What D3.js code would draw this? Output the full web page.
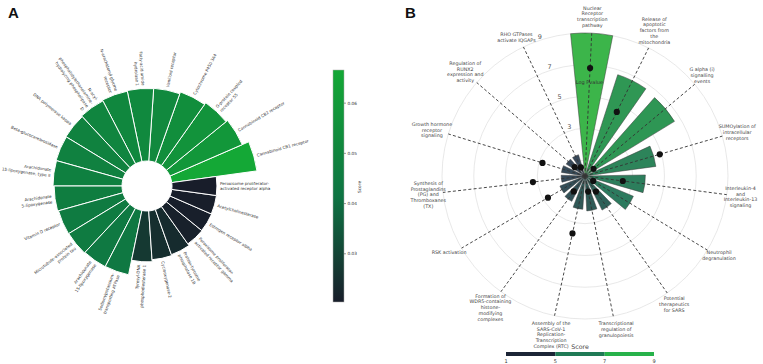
<!DOCTYPE html>
<html><head><meta charset="utf-8">
<script src="https://cdn.jsdelivr.net/npm/d3@7"></script>
<style>body{margin:0;background:#fff}svg{display:block}</style>
</head><body>
<svg id="c" width="763" height="364"></svg>
<script>
// ================= DATA =================
// Panel A: targets sorted by score (descending), laid out counter-clockwise
const targetsA = [
  "Cannabinoid CB1 receptor",
  "Cannabinoid CB2 receptor",
  "G-protein coupled receptor 55",
  "Cytochrome P450 3A4",
  "Vanilloid receptor",
  "Fatty-acid amide hydrolase 1",
  "N-arachidonyl glycine receptor",
  "N-acyl-phosphatidylethanolamine-hydrolyzing phospholipase D",
  "DNA polymerase kappa",
  "Beta-glucocerebrosidase",
  "Arachidonate 15-lipoxygenase, type II",
  "Arachidonate 5-lipoxygenase",
  "Vitamin D receptor",
  "Microtubule-associated protein tau",
  "Arachidonate 15-lipoxygenase",
  "Sodium/potassium-transporting ATPase",
  "Tyrosyl-DNA phosphodiesterase 1",
  "Cyclooxygenase-2",
  "Protein-tyrosine phosphatase 1B",
  "Peroxisome proliferator-activated receptor gamma",
  "Estrogen receptor alpha",
  "Acetylcholinesterase",
  "Peroxisome proliferator-activated receptor alpha"
];
const scoresA = [0.0666, 0.0586, 0.0564, 0.0541, 0.0519, 0.0515, 0.0507, 0.0496,
  0.0485, 0.0480, 0.0475, 0.0462, 0.0451, 0.0448, 0.0440, 0.0437,
  0.0271, 0.0248, 0.0237, 0.0214, 0.0210, 0.0206, 0.0204];
const colorTicksA = [0.03, 0.04, 0.05, 0.06];

// Panel B: pathways (clockwise from top)
const pathwaysB = [
  "Nuclear Receptor transcription pathway",
  "Release of apoptotic factors from the mitochondria",
  "G alpha (i) signalling events",
  "SUMOylation of intracellular receptors",
  "Interleukin-4 and Interleukin-13 signaling",
  "Neutrophil degranulation",
  "Potential therapeutics for SARS",
  "Transcriptional regulation of granulopoiesis",
  "Assembly of the SARS-CoV-1 Replication-Transcription Complex (RTC)",
  "Formation of WDR5-containing histone-modifying complexes",
  "RSK activation",
  "Synthesis of Prostaglandins (PG) and Thromboxanes (TX)",
  "Growth hormone receptor signaling",
  "Regulation of RUNX2 expression and activity",
  "RHO GTPases activate IQGAPs"
];
const scoreB = [9.0, 6.7, 6.6, 4.5, 3.8, 3.3, 2.4, 2.2, 2.1, 1.8, 1.7, 1.5, 1.5, 1.4, 1.4];
const logPvalueB = [6.8, 4.5, 0.7, 4.9, 2.4, 0.6, 1.2, 1.0, 3.7, 1.2, 2.7, 3.3, 2.8, 0.85, 0.6];
const radialTicksB = [1, 3, 5, 7, 9];
const radialLabelsB = [3, 5, 7, 9];
const colorTicksB = [1, 5, 7, 9];
const colorBandsB = ["#1c2536", "#1f7a55", "#27b24a"];

// ================= HELPERS =================
function isL(ch){ return !!ch && /[A-Za-z]/.test(ch); }
function splitHyphens(w){
  const parts=[]; let start=0;
  for(let k=1;k<w.length-1;k++){
    if(w[k]!=='-') continue;
    const before = (isL(w[k-1]) && isL(w[k-2])) || (isL(w[k-1]) && w[k-2]==='-' && isL(w[k-3]));
    const after = isL(w[k+1]) && (isL(w[k+2]) || (w[k+2]==='-' && isL(w[k+3])));
    if(before && after){ parts.push(w.slice(start,k+1)); start=k+1; }
  }
  parts.push(w.slice(start));
  return parts;
}
function wrap(text,width){
  const lines=[]; let cur="";
  text.split(" ").forEach(word=>{
    splitHyphens(word).forEach((p,j)=>{
      const add = (j===0 && cur.length>0) ? " "+p : p;
      if(cur.length>0 && (cur+add).length>width){ lines.push(cur); cur=p; }
      else cur += add;
    });
  });
  if(cur) lines.push(cur);
  return lines;
}
const rad = d => d*Math.PI/180;

const svg = d3.select("#c");

// ================= PANEL A =================
const A = {cx:147, cy:186, inner:25};
const nA = targetsA.length, stepA = 360/nA;
const thetaA = d3.scaleLinear().domain([0, nA]).range([stepA, 360+stepA]); // deg ccw from east
const radiusA = d3.scaleLinear().domain([0.02, 0.07]).range([69.6, 114]);
const extA = d3.extent(scoresA);
const colorA = d3.scaleLinear().domain([extA[0], extA[0]+0.45*(extA[1]-extA[0]), extA[1]])
  .range(["#181d2a", "#0e7343", "#14a836"]);
const gA = svg.append("g").attr("transform", `translate(${A.cx},${A.cy})`);
const arcA = d3.arc();
targetsA.forEach((t,i)=>{
  const th = thetaA(i);
  gA.append("path")
    .attr("d", arcA({innerRadius:A.inner, outerRadius:radiusA(scoresA[i]),
      startAngle:rad(90-th-stepA/2), endAngle:rad(90-th+stepA/2)}))
    .attr("fill", colorA(scoresA[i])).attr("stroke","#fff").attr("stroke-width",1);
});
const fsA = 4.1, lhA = 5.8;
targetsA.forEach((t,i)=>{
  const th = thetaA(i) % 360;
  const r = radiusA(scoresA[i]) + 3;
  const x = r*Math.cos(rad(th)), y = -r*Math.sin(rad(th));
  const flip = th>90 && th<270;
  const rot = flip ? 180-th : -th;
  const lines = wrap(t,25);
  const txt = gA.append("text")
    .attr("transform", `translate(${x},${y}) rotate(${rot})`)
    .attr("text-anchor", flip ? "end" : "start")
    .attr("font-family","DejaVu Sans").attr("font-size",fsA).attr("fill","#333");
  lines.forEach((l,j)=>txt.append("tspan").attr("x",0)
    .attr("y",(j-(lines.length-1)/2)*lhA).attr("dy","0.35em").text(l));
});
// colorbar A
const cbA = {x:333, w:11, y0:70, y1:302};
const yA = d3.scaleLinear().domain(extA).range([cbA.y1, cbA.y0]);
const defs = svg.append("defs");
const gradA = defs.append("linearGradient").attr("id","gA").attr("x1",0).attr("y1",1).attr("x2",0).attr("y2",0);
d3.range(0,1.0001,0.05).forEach(f=>{
  gradA.append("stop").attr("offset",f).attr("stop-color",colorA(extA[0]+f*(extA[1]-extA[0])));
});
svg.append("rect").attr("x",cbA.x).attr("y",cbA.y0).attr("width",cbA.w).attr("height",cbA.y1-cbA.y0)
  .attr("fill","url(#gA)").attr("stroke","#aaa").attr("stroke-width",0.5);
colorTicksA.forEach(v=>{
  svg.append("line").attr("x1",cbA.x+cbA.w).attr("x2",cbA.x+cbA.w+2).attr("y1",yA(v)).attr("y2",yA(v))
    .attr("stroke","#333").attr("stroke-width",0.5);
  svg.append("text").attr("x",cbA.x+cbA.w+3.5).attr("y",yA(v)).attr("dy","0.35em")
    .attr("font-family","DejaVu Sans").attr("font-size",4.3).attr("fill","#333").text(v.toFixed(2));
});
svg.append("text").attr("transform",`translate(359,${(cbA.y0+cbA.y1)/2+1}) rotate(-90)`)
  .attr("text-anchor","middle").attr("dy","0.35em")
  .attr("font-family","DejaVu Sans").attr("font-size",4.3).attr("fill","#333").text("Score");

svg.append("text").attr("x",8).attr("y",18).attr("font-family","Liberation Sans, Arial")
  .attr("font-weight","bold").attr("font-size",15).attr("fill","#111").text("A");

// ================= PANEL B =================
const B = {cx:585, cy:176, R:143};
const rB = d3.scaleLinear().domain([0,9]).range([0,B.R]);
const thetaB = d3.scaleLinear().domain([0,1]).range([2.7, 2.7+23.7]); // deg clockwise from north
const halfW = 8.5;
const colorB = d3.scaleLinear().domain([1.4, 2.2, 3.3, 6.6, 9])
  .range(["#374859", "#2f5b57", "#2c7a5e", "#2e9654", "#3cb54a"]);
const gB = svg.append("g").attr("transform",`translate(${B.cx},${B.cy})`);
// grid circles
radialTicksB.forEach(v=>{
  gB.append("circle").attr("r",rB(v)).attr("fill","none").attr("stroke","#e2e2e2").attr("stroke-width",0.8);
});
// bars
const arcB = d3.arc();
pathwaysB.forEach((p,i)=>{
  const th = thetaB(i);
  gB.append("path").attr("d", arcB({innerRadius:0, outerRadius:rB(scoreB[i]),
      startAngle:rad(th-halfW), endAngle:rad(th+halfW)}))
    .attr("fill", colorB(scoreB[i])).attr("stroke","#3a3a3a").attr("stroke-width",0.5);
});
// dashed spokes
pathwaysB.forEach((p,i)=>{
  const th = rad(thetaB(i));
  gB.append("line").attr("x1",0).attr("y1",0)
    .attr("x2",B.R*Math.sin(th)).attr("y2",-B.R*Math.cos(th))
    .attr("stroke","#333").attr("stroke-width",0.9).attr("stroke-dasharray","3,2.2");
});
// dots
pathwaysB.forEach((p,i)=>{
  const th = rad(thetaB(i)), r = rB(logPvalueB[i]);
  gB.append("circle").attr("cx",r*Math.sin(th)).attr("cy",-r*Math.cos(th)).attr("r",3.1).attr("fill","#111");
});
// radial tick labels
const radAxisAng = rad(-18);
radialLabelsB.forEach(v=>{
  const r = rB(v);
  gB.append("text").attr("x",r*Math.sin(radAxisAng)-1).attr("y",-r*Math.cos(radAxisAng)-3.5)
    .attr("dy","0.35em").attr("text-anchor","middle")
    .attr("font-family","DejaVu Sans").attr("font-size",6.5).attr("fill","#555").text(v);
});
// radial axis title
{
  const th = rad(thetaB(0)), r = rB(5.9);
  gB.append("text").attr("x",r*Math.sin(th)).attr("y",-r*Math.cos(th)).attr("dy","0.35em")
    .attr("text-anchor","middle").attr("font-family","DejaVu Sans").attr("font-size",5)
    .attr("fill","#333").text("Log Pvalue");
}
// category labels
const fsB = 4.8, lhB = 5.75, Rx = 140, Ry = 148;
pathwaysB.forEach((p,i)=>{
  const th = rad(thetaB(i));
  const s = Math.sin(th), c = Math.cos(th);
  const lines = wrap(p,15);
  const txt = gB.append("text").attr("text-anchor","middle")
    .attr("font-family","DejaVu Sans").attr("font-size",fsB).attr("fill","#444");
  lines.forEach((l,j)=>txt.append("tspan").attr("x",0)
    .attr("y",(j-(lines.length-1)/2)*lhB).attr("dy","0.35em").text(l));
  const w = d3.max(txt.selectAll("tspan").nodes(), n=>n.getComputedTextLength());
  const h = lines.length*lhB;
  const x = Rx*s + s*w/2, y = -Ry*c - c*h/2;
  txt.attr("transform",`translate(${x},${y})`);
});
// colorbar B
const xCB = d3.scalePoint().domain(colorTicksB).range([506, 654]);
colorTicksB.slice(0,-1).forEach((v,i)=>{
  svg.append("rect").attr("x",xCB(v)).attr("y",352).attr("width",xCB(colorTicksB[i+1])-xCB(v))
    .attr("height",4).attr("fill",colorBandsB[i]);
});
colorTicksB.forEach(v=>{
  svg.append("text").attr("x",xCB(v)).attr("y",363).attr("text-anchor","middle")
    .attr("font-family","DejaVu Sans").attr("font-size",5).attr("fill","#333").text(v);
});
svg.append("text").attr("x",580).attr("y",349).attr("text-anchor","middle")
  .attr("font-family","DejaVu Sans").attr("font-size",6.3).attr("fill","#444").text("Score");

svg.append("text").attr("x",405).attr("y",18).attr("font-family","Liberation Sans, Arial")
  .attr("font-weight","bold").attr("font-size",15).attr("fill","#111").text("B");
</script>
</body></html>
